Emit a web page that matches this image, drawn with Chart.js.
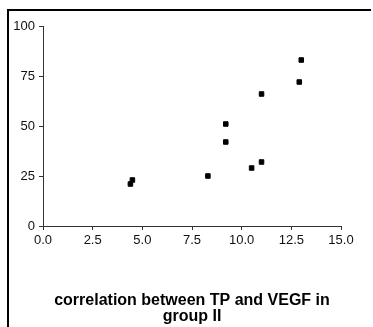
<!DOCTYPE html>
<html>
<head>
<meta charset="utf-8">
<script src="https://cdn.jsdelivr.net/npm/chart.js@4/dist/chart.umd.min.js"></script>
<style>
  html, body { margin: 0; padding: 0; background: #fff; }
  #wrap { position: relative; width: 373px; height: 327px; }
  #frame { position: absolute; left: 7px; top: 9px; right: 2px; bottom: 0; border-left: 2px solid #000; border-top: 2px solid #000; pointer-events: none; }
</style>
</head>
<body>
<div id="wrap">
  <canvas id="scatter" width="373" height="327"></canvas>
  <div id="frame"></div>
</div>
<script>
// TP vs VEGF, group II
const tpValues   = [4.4, 4.5, 8.3, 9.2, 9.2, 10.5, 11.0, 11.0, 12.9, 13.0];
const vegfValues = [21, 23, 25, 42, 51, 29, 32, 66, 72, 83];
const xTicks = [0, 2.5, 5, 7.5, 10, 12.5, 15];
const yTicks = [0, 25, 50, 75, 100];
const titleLines = ['correlation between TP and VEGF in', 'group II'];

const FONT = 'Liberation Sans, Arial, Helvetica, sans-serif';
const axisColor = '#333';

new Chart(document.getElementById('scatter'), {
    type: 'scatter',
    data: {
        datasets: [{
            data: tpValues.map((x, i) => ({ x, y: vegfValues[i] })),
            pointStyle: 'rect',
            pointRadius: 3.2,
            borderWidth: 1,
            backgroundColor: '#000',
            borderColor: '#000'
        }]
    },
    options: {
        responsive: false,
        animation: false,
        layout: { padding: { left: 8, right: 32, top: 26, bottom: 0 } },
        plugins: { legend: { display: false }, tooltip: { enabled: false } },
        scales: {
            x: {
                type: 'linear',
                min: xTicks[0],
                max: xTicks[xTicks.length - 1],
                afterBuildTicks: s => { s.ticks = xTicks.map(v => ({ value: v })); },
                afterFit: s => { s.height = 101; },
                grid: { drawOnChartArea: false, tickLength: 4, color: axisColor },
                border: { color: axisColor, width: 1 },
                ticks: {
                    padding: 3,
                    color: '#111',
                    font: { family: FONT, size: 13 },
                    maxRotation: 0,
                    callback: v => Number(v).toFixed(1)
                },
                title: {
                    display: true,
                    text: titleLines,
                    color: '#000',
                    font: { family: FONT, size: 16, weight: 'bold', lineHeight: 1 },
                    padding: { top: 0, bottom: 2 }
                }
            },
            y: {
                type: 'linear',
                min: yTicks[0],
                max: yTicks[yTicks.length - 1],
                afterBuildTicks: s => { s.ticks = yTicks.map(v => ({ value: v })); },
                afterFit: s => { s.width = 35; },
                grid: { drawOnChartArea: false, tickLength: 4, color: axisColor },
                border: { color: axisColor, width: 1 },
                ticks: {
                    padding: 4,
                    color: '#111',
                    font: { family: FONT, size: 13 }
                }
            }
        }
    }
});
</script>
</body>
</html>
